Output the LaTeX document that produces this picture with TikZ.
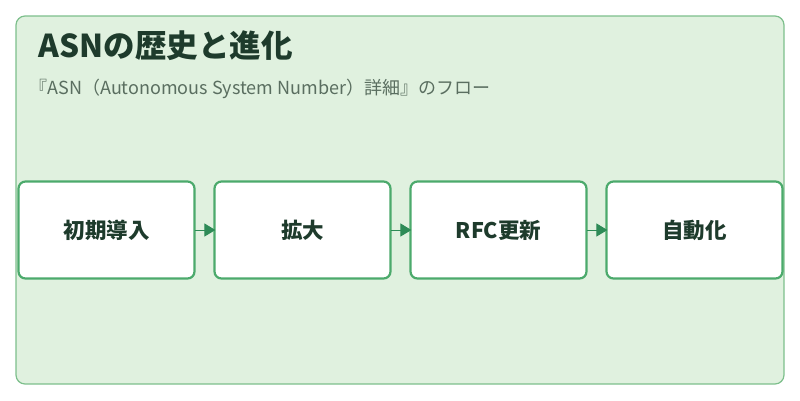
\documentclass[tikz,border=0pt]{standalone}
\usepackage{fontspec}
\setmainfont{Noto Sans CJK JP}
\usetikzlibrary{arrows.meta}
\definecolor{bg}{HTML}{E0F1DF}
\definecolor{frame}{HTML}{7DBF8C}
\definecolor{boxline}{HTML}{4CAA6C}
\definecolor{titlec}{HTML}{1E3B2C}
\definecolor{subc}{HTML}{5A6E60}
\definecolor{arr}{HTML}{2E8B57}
\tikzset{stepbox/.style={draw=boxline,line width=2.2pt,fill=white,rounded corners=7pt,minimum width=176pt,minimum height=97pt,font=\fontsize{21.5}{23}\selectfont\bfseries,text=titlec},
flow/.style={draw=arr,line width=1pt,-{Triangle[length=11pt,width=13pt]},shorten <=-1pt,shorten >=-2pt}}
\begin{document}
\begin{tikzpicture}[x=1pt,y=-1pt]
\useasboundingbox (0,0) rectangle (800,400);
\draw[frame,fill=bg,rounded corners=9pt,line width=1.2pt] (16,16) rectangle (784,384);
\node[anchor=west,text=titlec,font=\fontsize{31.5}{33}\selectfont\bfseries] (title) at (35,46) {ASNの歴史と進化};
\node[anchor=west,text=subc,font=\fontsize{18}{20}\selectfont] (sub) at (26,89) {『ASN（Autonomous System Number）詳細』のフロー};
\node[stepbox] (a) at (106.5,230) {初期導入};
\node[stepbox] (b) at (302.5,230) {拡大};
\node[stepbox] (c) at (498.5,230) {RFC更新};
\node[stepbox] (d) at (694.5,230) {自動化};
\draw[flow] (a) -- (b);
\draw[flow] (b) -- (c);
\draw[flow] (c) -- (d);
\end{tikzpicture}
\end{document}
